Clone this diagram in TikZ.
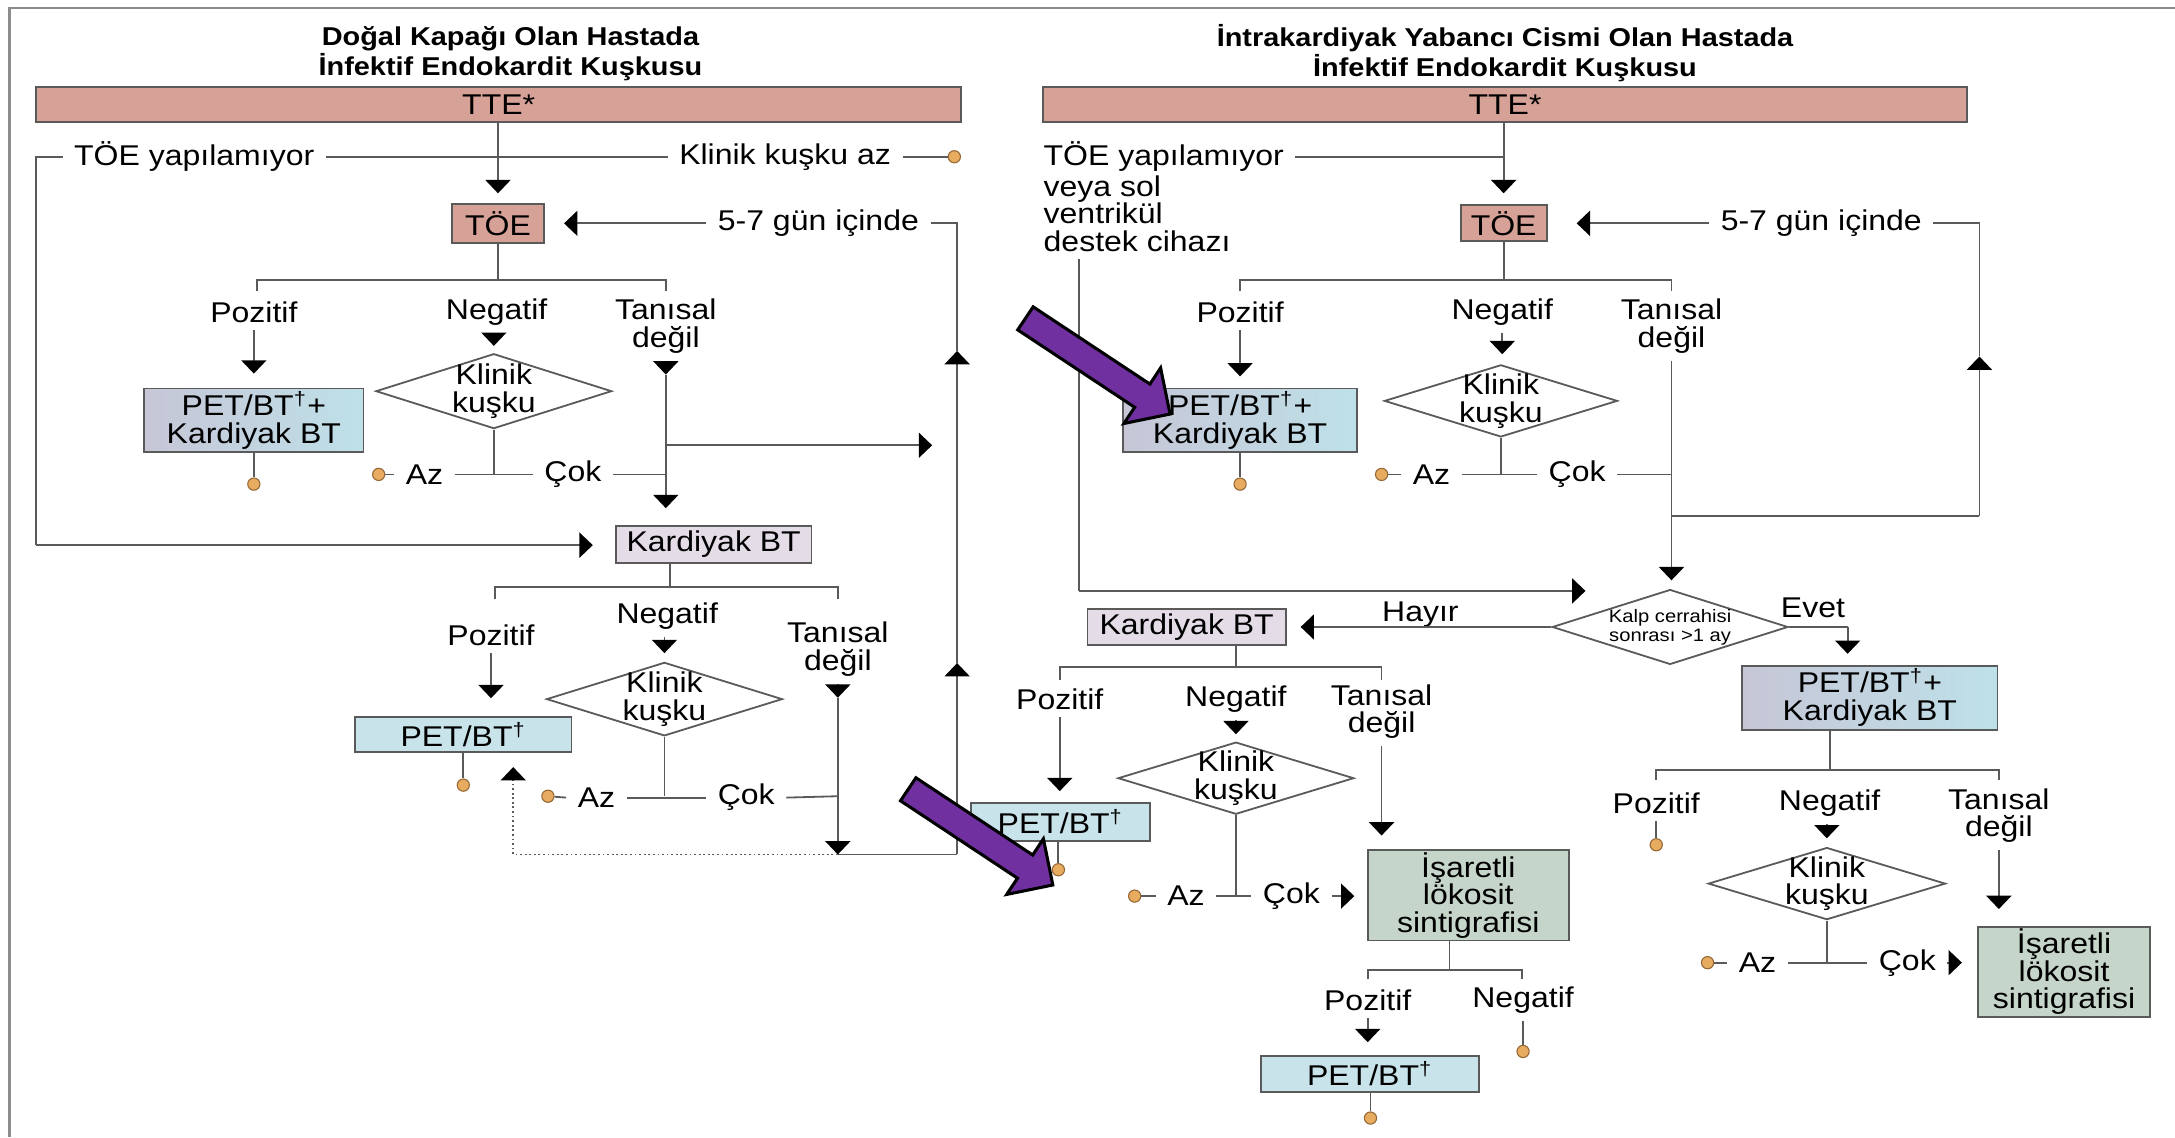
\documentclass[tikz,border=0pt]{standalone}
\usepackage{fontspec}
\setmainfont{Liberation Sans}[FakeStretch=1.12]
\usetikzlibrary{arrows.meta,shapes.geometric,calc}
\definecolor{salmon}{RGB}{214,161,150}
\definecolor{lav}{RGB}{228,221,232}
\definecolor{petblue}{RGB}{200,227,234}
\definecolor{gradL}{RGB}{198,198,214}
\definecolor{gradR}{RGB}{190,225,233}
\definecolor{sinti}{RGB}{198,213,202}
\definecolor{lineg}{RGB}{90,90,90}
\definecolor{dotfill}{RGB}{232,172,96}
\definecolor{dotdraw}{RGB}{150,105,55}
\definecolor{purp}{RGB}{112,48,160}
\definecolor{frameg}{RGB}{140,140,140}
\newcommand{\lblfont}{\fontsize{10.3}{10}\selectfont}
\newcommand{\ttlfont}{\fontsize{9.3}{9.5}\selectfont\bfseries}
\newcommand{\smallfont}{\fontsize{6.5}{6.8}\selectfont}
\newcommand{\dg}{\textsuperscript{\scriptsize †}}
\begin{document}
\begin{tikzpicture}[x=0.5pt,y=-0.5pt,
  conn/.style={draw=lineg,line width=0.65pt},
  arr/.style={conn,-{Triangle[length=4.8pt,width=9pt,color=black]}},
  lab/.style={inner xsep=4pt,inner ysep=2.5pt,font=\lblfont,align=center,text=black},
  sz/.style 2 args={minimum width=#1*0.5pt,minimum height=#2*0.5pt},
  box/.style={draw=lineg,line width=0.65pt,inner sep=0pt,font=\lblfont,align=center,text=black},
  bar/.style={box,fill=salmon},
  petk/.style={box,left color=gradL,right color=gradR},
  pet/.style={box,fill=petblue},
  kbt/.style={box,fill=lav},
  sint/.style={box,fill=sinti},
  dec/.style={diamond,draw=lineg,line width=0.65pt,fill=white,inner sep=0pt},
  klinik/.style={label={[lab,inner sep=0pt]center:{Klinik\\kuşku}}},
  enddot/.style={circle,draw=dotdraw,fill=dotfill,line width=0.4pt,inner sep=0pt,minimum size=4.4pt},
  ttl/.style={font=\ttlfont,align=center,text=black},
  bigarrow/.style={fill=purp,draw=black,line width=1.1pt,line join=miter},
  pics/pointer/.style={code={
    \draw[bigarrow] (-98.7,-77.3) -- (-14.5,-21.6) -- (-6.8,-33.3) -- (0,0)
      -- (-33.25,6.8) -- (-25.5,-4.9) -- (-109.8,-60.7) -- cycle;}},
]
\useasboundingbox (0,0) rectangle (1568,820);
% outer frame (top and left edges)
\draw[frameg,line width=0.8pt] (6.9,820) -- (6.9,5.5) -- (1568,5.5);

% ---------------- titles ----------------
\node[ttl] (t1) at (368,38.5) {Doğal Kapağı Olan Hastada\\İnfektif Endokardit Kuşkusu};
\node[ttl] (t2) at (1085,38.5) {İntrakardiyak Yabancı Cismi Olan Hastada\\İnfektif Endokardit Kuşkusu};

% ================= left chart =================
\node[bar,sz={667}{25}] (tteL) at (359.5,75.5) {TTE*};
\node[bar,sz={66}{28}] (toeL) at (359,161) {TÖE};
\node[lab] (noteeL) at (140,113) {TÖE yapılamıyor};
\node[lab] (lowL) at (566,113) {Klinik kuşku az};
\node[enddot] (dA) at (688,113) {};
\node[lab] (dayL) at (590,161) {5-7 gün içinde};
\node[lab] (posA) at (183,225) {Pozitif};
\node[lab] (negA) at (358,225) {Negatif};
\node[lab] (tanA) at (480,235) {Tanısal\\değil};
\node[petk,sz={158}{46}] (petkA) at (183,303) {PET/BT\dg+\\Kardiyak BT};
\node[dec,sz={170}{54},klinik] (klA) at (356,282) {};
\node[lab] (azA) at (306,342) {Az};
\node[lab] (cokA) at (413,342) {Çok};
\node[enddot] (dB) at (273,342) {};
\node[enddot] (dC) at (183,349) {};
\node[kbt,sz={141}{27}] (kbtA) at (514.5,392.5) {Kardiyak BT};
\node[lab] (posB) at (354,458) {Pozitif};
\node[lab] (negB) at (481,444) {Negatif};
\node[lab] (tanB) at (604,468) {Tanısal\\değil};
\node[pet,sz={156}{25}] (petB) at (334,529.5) {PET/BT\dg};
\node[dec,sz={170}{53},klinik] (klB) at (479,504) {};
\node[lab] (azB) at (430,575) {Az};
\node[lab] (cokB) at (538,575) {Çok};
\node[enddot] (dD) at (395,574) {};
\node[enddot] (dE) at (334,566) {};

\coordinate (cL) at (26,393);
\coordinate (brA) at (359,202);
\coordinate (tA1) at (480,270);
\coordinate (tA2) at (480,321);
\coordinate (tA3) at (480,342);
\coordinate (jA) at (356,342);
\coordinate (brB) at (483,423);
\coordinate (tB1) at (604,503);
\coordinate (tB2) at (604,574);
\coordinate (jB) at (479,574);
\coordinate (jBot) at (604,616);
\coordinate (lpBot) at (690,616);
\coordinate (lpTop) at (690,161);
\coordinate (upA) at (690,478);
\coordinate (upB) at (690,253);
\coordinate (dotTurn) at (370,616);
\coordinate (dotEnd) at (370,553);

\draw[arr,shorten >=3.5pt] (tteL.south -| toeL.north) -- (toeL.north);
\draw[conn] (noteeL.west) -- (noteeL.west -| cL) -- (cL);
\draw[arr,shorten >=8pt] (cL) -- (kbtA.west |- cL);
\draw[conn] (noteeL.east) -- (lowL.west);
\draw[conn] (lowL.east) -- (dA);
\draw[arr,shorten >=7pt] (dayL.west) -- (toeL.east);
\draw[conn] (dayL.east) -- (lpTop) -- (upB);
\draw[arr] (upA) -- (upB);
\draw[arr] (lpBot) -- (upA);
\draw[conn] (jBot) -- (lpBot);
\draw[conn] (toeL.south) -- (brA);
\draw[conn] (185,210) -- (185,202) -- (480,202) -- (480,210);
\draw[arr,shorten >=5pt] (posA.south) -- (posA.south |- petkA.north);
\draw[arr,shorten >=2.5pt] (negA.south -| klA.north) -- (klA.north);
\draw[arr] (tanA.south) -- (tA1);
\draw[conn] (tA1) -- (tA2);
\draw[arr,shorten >=6pt] (tA2) -- (tA2 |- kbtA.north);
\draw[arr] (tA2) -- (672,321);
\draw[conn] (klA.south) -- (jA);
\draw[conn] (azA.east) -- (cokA.west);
\draw[conn] (cokA.east) -- (tA3);
\draw[conn] (dB) -- (azA.west);
\draw[conn] (petkA.south) -- (dC);
\draw[conn] (kbtA.south -| brB) -- (brB);
\draw[conn] (357,432) -- (357,423) -- (604,423) -- (604,432);
\draw[arr,shorten >=6.5pt] (posB.south) -- (posB.south |- petB.north);
\draw[arr,shorten >=3pt] (negB.south -| klB.north) -- (klB.north);
\draw[arr] (tanB.south) -- (tB1);
\draw[arr] (tB1) -- (jBot);
\draw[conn] (klB.south) -- (jB);
\draw[conn] (azB.east) -- (cokB.west);
\draw[conn] (cokB.east) -- (tB2);
\draw[conn] (dD) -- (azB.west);
\draw[conn] (petB.south -| dE) -- (dE);
\draw[arr,densely dotted] (jBot) -- (dotTurn) -- (dotEnd);

% ================= right chart =================
\node[bar,sz={666}{25}] (tteR) at (1085,75.5) {TTE*};
\node[bar,sz={62}{26}] (toeR) at (1084,161) {TÖE};
\node[lab,anchor=west] (noteeR) at (744,113) {TÖE yapılamıyor};
\node[lab,anchor=north west,align=left] (lvadR) at (744,121) {veya sol\\ventrikül\\destek cihazı};
\node[lab] (dayR) at (1313,161) {5-7 gün içinde};
\node[lab] (posC) at (894,225) {Pozitif};
\node[lab] (negC) at (1083,225) {Negatif};
\node[lab] (tanC) at (1205,235) {Tanısal\\değil};
\node[petk,sz={169}{46}] (petkC) at (894,303) {PET/BT\dg+\\Kardiyak BT};
\node[dec,sz={168}{52},klinik] (klC) at (1082,289) {};
\node[lab] (azC) at (1032,342) {Az};
\node[lab] (cokC) at (1137,342) {Çok};
\node[enddot] (dF) at (996,342) {};
\node[enddot] (dG) at (894,349) {};
\node[dec,sz={170}{54},label={[font=\smallfont,align=center,inner sep=0pt,text=black]center:{Kalp cerrahisi\\sonrası >1 ay}}] (kalp) at (1204,452) {};
\node[lab] (hay) at (1024,443) {Hayır};
\node[lab] (evet) at (1307,438) {Evet};
\node[kbt,sz={143}{26}] (kbtD) at (855.5,452) {Kardiyak BT};
\node[lab] (posD) at (764,504) {Pozitif};
\node[lab] (negD) at (891,504) {Negatif};
\node[lab] (tanD) at (996,513) {Tanısal\\değil};
\node[pet,sz={129}{27}] (petD) at (764.5,592.5) {PET/BT\dg};
\node[dec,sz={170}{52},klinik] (klD) at (891,561) {};
\node[lab] (azD) at (855,646) {Az};
\node[lab] (cokD) at (931,646) {Çok};
\node[enddot] (dH) at (818,646) {};
\node[enddot] (dI) at (763,627) {};
\node[sint,sz={145}{65}] (isD) at (1058.5,645.5) {İşaretli\\lökosit\\sintigrafisi};
\node[lab] (posE) at (986,721) {Pozitif};
\node[lab] (negE) at (1098,721) {Negatif};
\node[pet,sz={157}{26}] (petE) at (987.5,774) {PET/BT\dg};
\node[enddot] (dJ) at (988,806) {};
\node[enddot] (dK) at (1098,758) {};
\node[petk,sz={184}{46}] (petkF) at (1348,503) {PET/BT\dg+\\Kardiyak BT};
\node[lab] (posF) at (1194,579) {Pozitif};
\node[lab] (negF) at (1319,579) {Negatif};
\node[lab] (tanF) at (1441,588) {Tanısal\\değil};
\node[enddot] (dL) at (1194,609) {};
\node[dec,sz={171}{52},klinik] (klF) at (1317,637) {};
\node[lab] (azF) at (1267,694) {Az};
\node[lab] (cokF) at (1375,694) {Çok};
\node[enddot] (dM) at (1231,694) {};
\node[sint,sz={124}{65}] (isF) at (1488,700.5) {İşaretli\\lökosit\\sintigrafisi};

\coordinate (vR) at (778,426);
\coordinate (vRend) at (1143,426);
\coordinate (tC1) at (1205,372);
\coordinate (tC2) at (1205,342);
\coordinate (lpRb) at (1427,372);
\coordinate (lpRt) at (1427,161);
\coordinate (upR) at (1427,257);
\coordinate (brC) at (1084,202);
\coordinate (jC) at (1082,342);
\coordinate (evK) at (1332,452);
\coordinate (brD) at (891,481);
\coordinate (jD) at (891,646);
\coordinate (brE) at (1045,699);
\coordinate (brF) at (1319,555);
\coordinate (jF) at (1317,694);

\draw[arr,shorten >=4pt] (tteR.south -| toeR.north) -- (toeR.north);
\draw[conn] (noteeR.east) -- (noteeR.east -| toeR.north);
\draw[conn] (lvadR.south -| vR) -- (vR);
\draw[arr] (vR) -- (vRend);
\draw[arr,shorten >=10.5pt] (dayR.west) -- (toeR.east);
\draw[conn] (tanC.south) -- (tC1);
\draw[arr,shorten >=3pt] (tC1) -- (tC1 |- kalp.north);
\draw[conn] (tC1) -- (lpRb);
\draw[arr] (lpRb) -- (upR);
\draw[conn] (upR) -- (lpRt) -- (dayR.east);
\draw[conn] (toeR.south) -- (brC);
\draw[conn] (894,210) -- (894,202) -- (1205,202) -- (1205,210);
\draw[arr,shorten >=4pt] (posC.south) -- (posC.south |- petkC.north);
\draw[arr,shorten >=3.5pt] (negC.south) -- (negC.south |- klC.north);
\draw[conn] (klC.south) -- (jC);
\draw[conn] (azC.east) -- (cokC.west);
\draw[conn] (cokC.east) -- (tC2);
\draw[conn] (dF) -- (azC.west);
\draw[conn] (petkC.south) -- (dG);
\draw[arr,shorten >=5pt] (kalp.west) -- (kbtD.east);
\draw[conn] (kalp.east) -- (evK);
\draw[arr,shorten >=4pt] (evK) -- (evK |- petkF.north);
\draw[conn] (kbtD.south -| brD) -- (brD);
\draw[conn] (764,490) -- (764,481) -- (996,481) -- (996,490);
\draw[arr,shorten >=4pt] (posD.south) -- (posD.south |- petD.north);
\draw[arr,shorten >=2.5pt] (negD.south) -- (negD.south |- klD.north);
\draw[arr,shorten >=5pt] (tanD.south) -- (tanD.south |- isD.north);
\draw[conn] (klD.south) -- (jD);
\draw[conn] (azD.east) -- (cokD.west);
\draw[arr,shorten >=4.5pt] (cokD.east) -- (cokD.east -| isD.west);
\draw[conn] (dH) -- (azD.west);
\draw[conn] (petD.south -| dI) -- (dI);
\draw[conn] (isD.south -| brE) -- (brE);
\draw[conn] (986,706) -- (986,699) -- (1097,699) -- (1097,706);
\draw[arr,shorten >=4.5pt] (posE.south) -- (posE.south |- petE.north);
\draw[conn] (negE.south) -- (dK);
\draw[conn] (petE.south -| dJ) -- (dJ);
\draw[conn] (petkF.south -| brF) -- (brF);
\draw[conn] (1194,562) -- (1194,555) -- (1441,555) -- (1441,562);
\draw[conn] (posF.south) -- (dL);
\draw[arr,shorten >=3pt] (negF.south -| klF.north) -- (klF.north);
\draw[arr,shorten >=6pt] (tanF.south) -- (tanF.south |- isF.north);
\draw[conn] (klF.south) -- (jF);
\draw[conn] (azF.east) -- (cokF.west);
\draw[arr,shorten >=5.5pt] (cokF.east) -- (cokF.east -| isF.west);
\draw[conn] (dM) -- (azF.west);

% highlight pointers
\pic at (843.5,298.5) {pointer};
\pic at (759,638) {pointer};
\end{tikzpicture}
\end{document}
